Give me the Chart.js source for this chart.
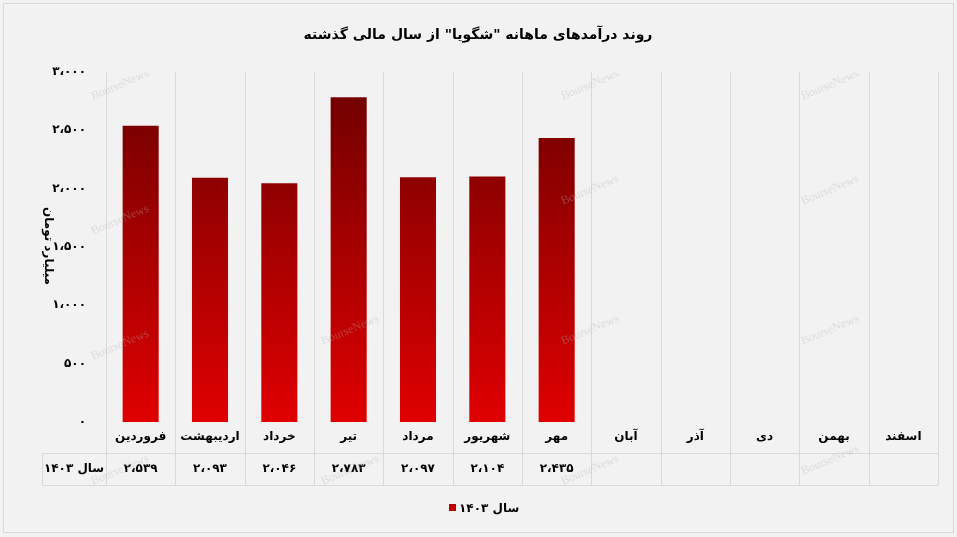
<!DOCTYPE html>
<html><head><meta charset="utf-8">
<script src="https://cdn.jsdelivr.net/npm/chart.js@4"></script>
<style>html,body{margin:0;padding:0;background:#fff}#w{position:absolute;left:0;top:0;width:957px;height:537px}</style>
</head><body><div id="w"><canvas id="c" width="957" height="537"></canvas></div>
<script>
const categories=['فروردین','اردیبهشت','خرداد','تیر','مرداد','شهریور','مهر','آبان','آذر','دی','بهمن','اسفند'];
const values=[2539,2093,2046,2783,2097,2104,2435,null,null,null,null,null];
const valueLabels=['۲،۵۳۹','۲،۰۹۳','۲،۰۴۶','۲،۷۸۳','۲،۰۹۷','۲،۱۰۴','۲،۴۳۵','','','','',''];
const seriesName='سال ۱۴۰۳';
const yTickLabels={0:'۰',500:'۵۰۰',1000:'۱،۰۰۰',1500:'۱،۵۰۰',2000:'۲،۰۰۰',2500:'۲،۵۰۰',3000:'۳،۰۰۰'};
const yTitle='میلیارد تومان';
const title='روند درآمدهای ماهانه "شگویا" از سال مالی گذشته';
const F='"DejaVu Sans", sans-serif';

const deco={id:'deco',
beforeDraw(ch){const c=ch.ctx;c.save();c.fillStyle='#f2f2f2';c.fillRect(0,0,957,537);
c.strokeStyle='#d9d9d9';c.lineWidth=1;c.strokeRect(3.5,3.5,950,529);c.restore();},
afterDatasetsDraw(ch){
const c=ch.ctx,a=ch.chartArea;c.save();
const n=categories.length,w=(a.right-a.left)/n;
c.strokeStyle='#d9d9d9';c.lineWidth=1;
for(let i=0;i<=n;i++){const xx=Math.round(a.left+i*w)+0.5;c.beginPath();c.moveTo(xx,a.top);c.lineTo(xx,485);c.stroke();}
c.beginPath();c.moveTo(42,453.5);c.lineTo(a.right,453.5);c.moveTo(42,485.5);c.lineTo(a.right,485.5);c.moveTo(42.5,453);c.lineTo(42.5,485);c.stroke();
c.fillStyle='#000';c.textAlign='center';c.textBaseline='middle';c.font='bold 12px '+F;
for(let i=0;i<n;i++){const cx=a.left+(i+0.5)*w;c.fillText(categories[i],cx,437);c.fillText(valueLabels[i],cx,469);}
c.fillText(seriesName,74,469);
c.fillStyle='#c00000';c.fillRect(449,504,7,7);
c.fillStyle='#000';c.textAlign='left';c.fillText(seriesName,459,509);
c.font='bold 14px '+F;c.textAlign='center';c.fillText(title,478,35);
c.font='bold 12px '+F;c.save();c.translate(48,246);c.rotate(Math.PI/2);c.fillText(yTitle,0,0);c.restore();
c.fillStyle='rgba(180,180,180,0.35)';c.font='12px "Liberation Serif", serif';
[[120,85],[590,85],[830,85],[120,220],[590,190],[830,190],[120,345],[350,330],[590,330],[830,330],[120,470],[350,470],[590,470],[830,460]].forEach(p=>{c.save();c.translate(p[0],p[1]);c.rotate(-0.4);c.fillText('BourseNews',0,0);c.restore();});
c.restore();}};

new Chart(document.getElementById('c'),{type:'bar',
data:{labels:categories,datasets:[{label:seriesName,data:values,
backgroundColor(ctx){const a=ctx.chart.chartArea;if(!a)return '#c00000';
const g=ctx.chart.ctx.createLinearGradient(0,a.top,0,a.bottom);g.addColorStop(0,'#6b0000');g.addColorStop(1,'#e00000');return g;},
categoryPercentage:1,barPercentage:0.52}]},
options:{responsive:false,animation:false,devicePixelRatio:1,
layout:{padding:{top:72,right:19,bottom:107,left:0}},
plugins:{legend:{display:false},tooltip:{enabled:false},title:{display:false}},
scales:{x:{grid:{display:false},border:{display:false},ticks:{display:false}},
y:{min:0,max:3000,afterFit(s){s.width=106;},grid:{display:false},border:{display:false},
ticks:{stepSize:500,color:'#000',font:{family:F,size:12,weight:'bold'},padding:12,callback:v=>yTickLabels[v]}}}},
plugins:[deco]});
</script></body></html>
